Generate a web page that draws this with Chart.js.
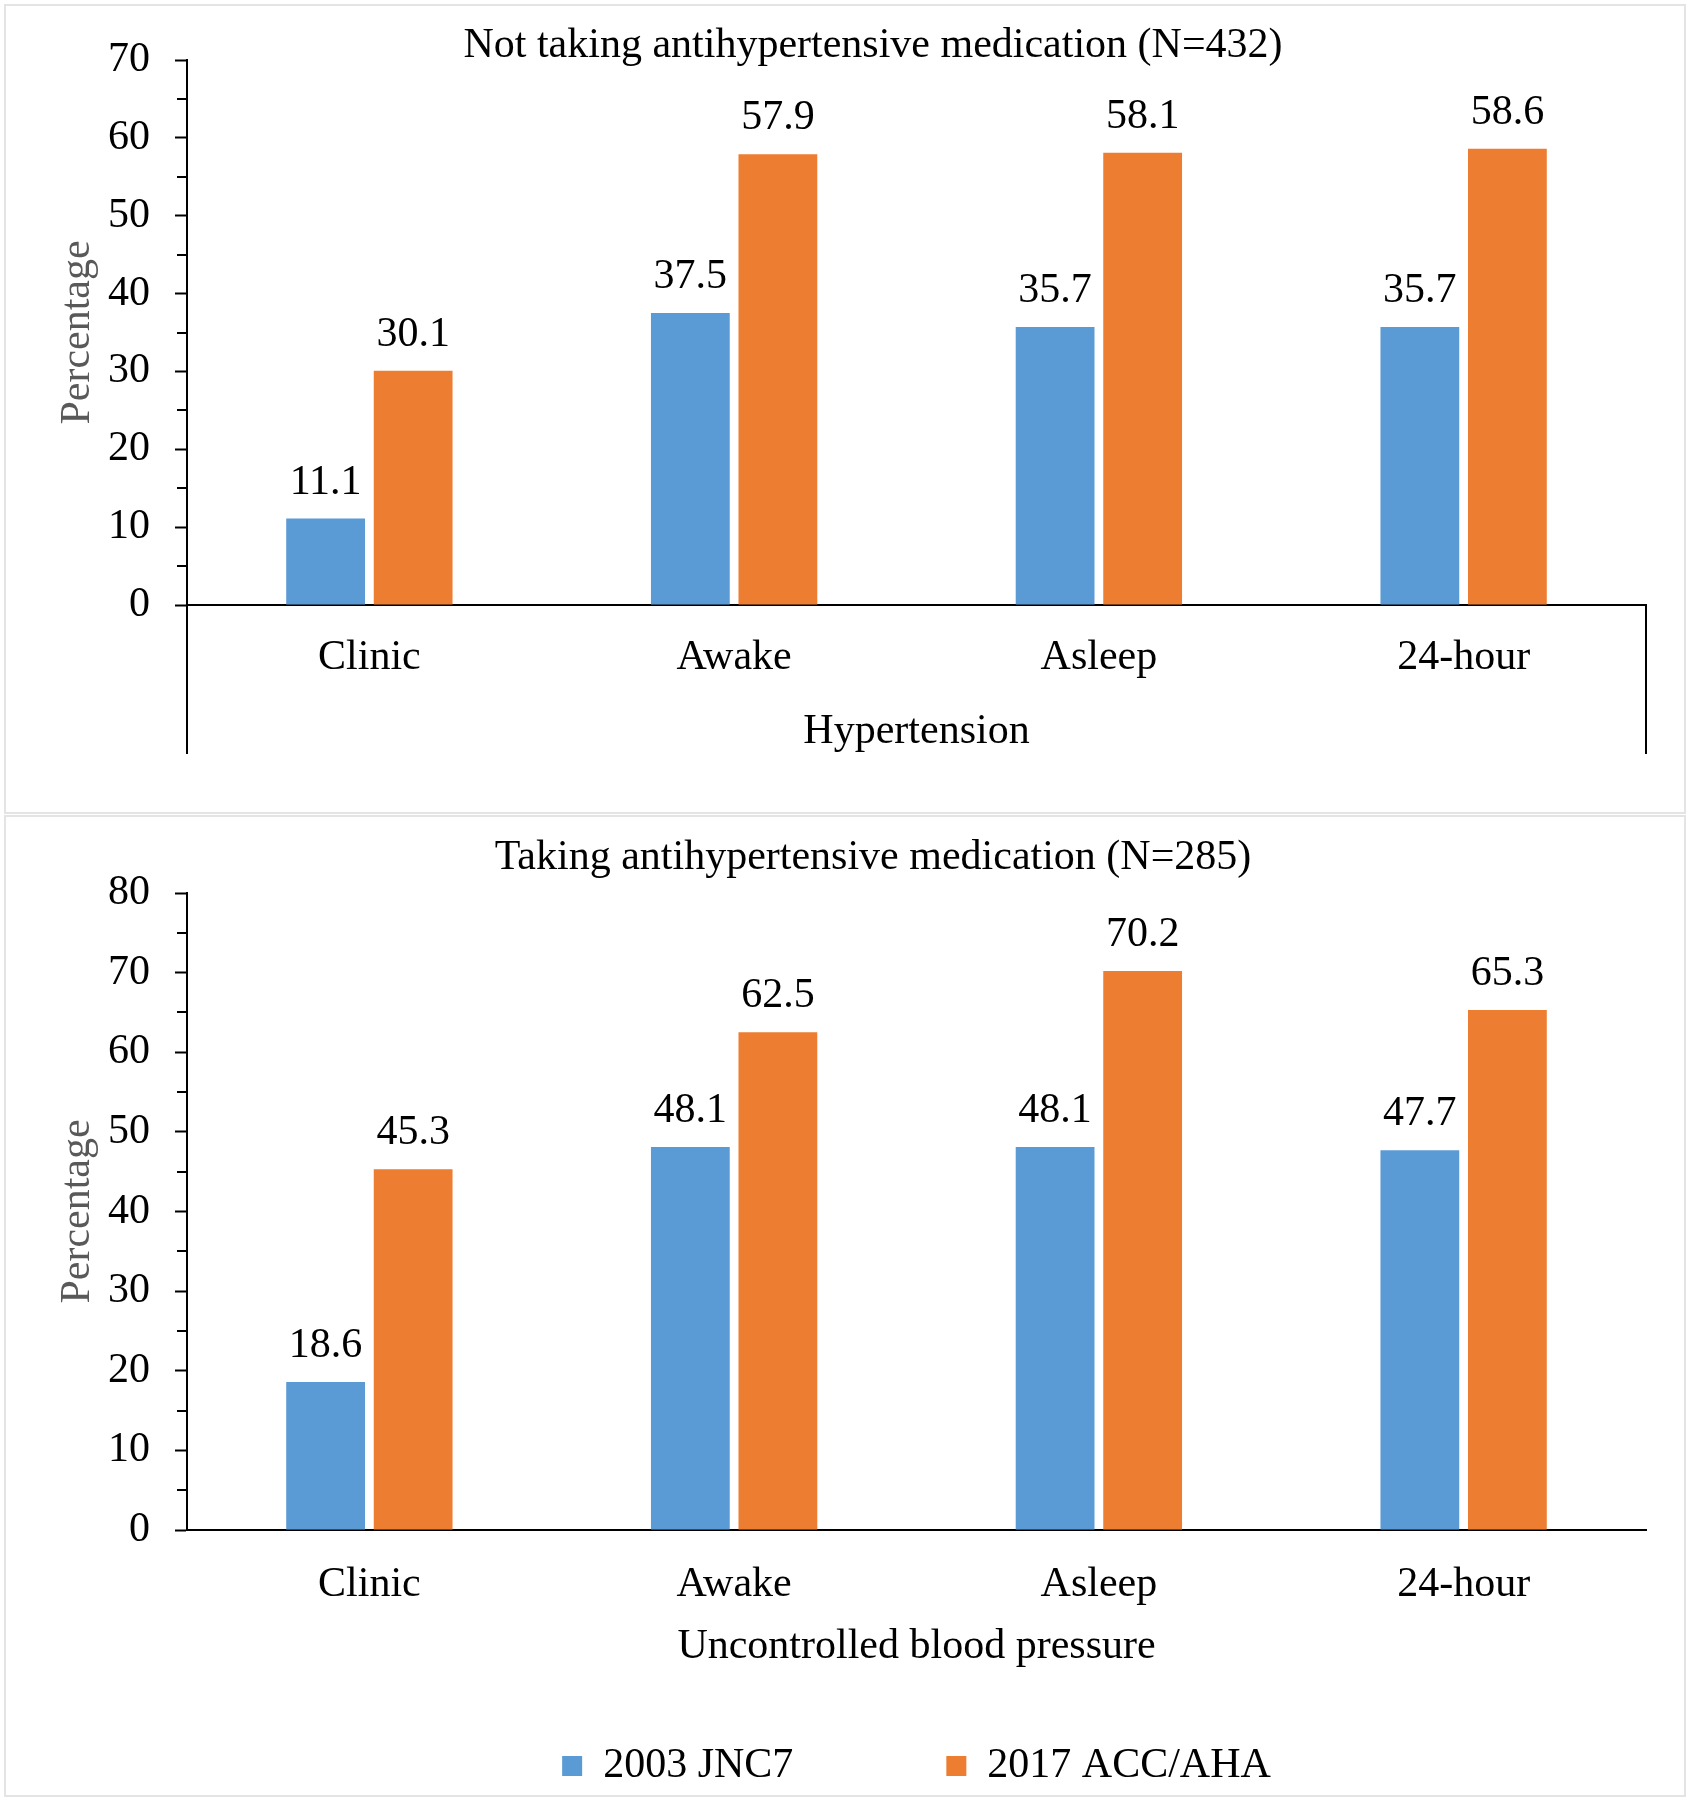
<!DOCTYPE html>
<html>
<head>
<meta charset="utf-8">
<title>Hypertension by threshold</title>
<script src="https://cdn.jsdelivr.net/npm/chart.js@4.4.1/dist/chart.umd.min.js"></script>
<style>
  html, body { margin: 0; padding: 0; background: #fff; }
  body { position: relative; width: 1691px; height: 1800px; overflow: hidden; }
  .panel { position: absolute; border: 2px solid #e4e4e4; box-sizing: border-box; }
  #panelTop { left: 4px; top: 4px; width: 1682px; height: 810px; }
  #panelBottom { left: 4px; top: 815px; width: 1682px; height: 982px; }
  canvas { position: absolute; left: 0; }
  #chartTop { top: 0; }
  #chartBottom { top: 812px; }
</style>
</head>
<body>
<div class="panel" id="panelTop"></div>
<div class="panel" id="panelBottom"></div>
<canvas id="chartTop" width="1691" height="812"></canvas>
<canvas id="chartBottom" width="1691" height="988"></canvas>
<script>
// values
const categories = ['Clinic', 'Awake', 'Asleep', '24-hour'];
const seriesNames = ['2003 JNC7', '2017 ACC/AHA'];
const notTakingJnc7 = [11.1, 37.5, 35.7, 35.7];
const notTakingAcc = [30.1, 57.9, 58.1, 58.6];
const takingJnc7 = [18.6, 48.1, 48.1, 47.7];
const takingAcc = [45.3, 62.5, 70.2, 65.3];
const topMax = 70;
const bottomMax = 80;

const blue = '#5b9bd5';
const orange = '#ed7d31';
const serif = '"Liberation Serif", "Times New Roman", serif';
const font = { family: serif, size: 42 };

Chart.defaults.font.family = serif;
Chart.defaults.color = '#000';

// numbers above each bar
const barLabels = {
  id: 'barLabels',
  afterDatasetsDraw(chart) {
    const ctx = chart.ctx;
    ctx.save();
    ctx.font = '42px ' + serif;
    ctx.fillStyle = '#000';
    ctx.textAlign = 'center';
    ctx.textBaseline = 'middle';
    chart.data.datasets.forEach((ds, i) => {
      chart.getDatasetMeta(i).data.forEach((bar, j) => {
        ctx.fillText(ds.data[j].toFixed(1), bar.x, bar.y - 36);
      });
    });
    ctx.restore();
  }
};

// short ticks halfway between the labelled ones
const minorTicks = {
  id: 'minorTicks',
  afterDraw(chart) {
    const y = chart.scales.y;
    const ctx = chart.ctx;
    ctx.save();
    ctx.strokeStyle = '#000';
    ctx.lineWidth = 2;
    for (let v = 5; v < y.max; v += 10) {
      const py = Math.round(y.getPixelForValue(v));
      ctx.beginPath();
      ctx.moveTo(chart.chartArea.left - 10, py);
      ctx.lineTo(chart.chartArea.left, py);
      ctx.stroke();
    }
    ctx.restore();
  }
};

// the top chart has its category box carried down below the axis
const categoryFrame = {
  id: 'categoryFrame',
  afterDraw(chart) {
    const { left, right, bottom } = chart.chartArea;
    const ctx = chart.ctx;
    ctx.save();
    ctx.strokeStyle = '#000';
    ctx.lineWidth = 2;
    ctx.beginPath();
    ctx.moveTo(left, bottom);
    ctx.lineTo(left, bottom + 149);
    ctx.moveTo(right, bottom);
    ctx.lineTo(right, bottom + 149);
    ctx.stroke();
    ctx.restore();
  }
};

function makeChart(id, title, xTitle, jnc, acc, yMax, opts) {
  const ctx = document.getElementById(id).getContext('2d');
  return new Chart(ctx, {
    type: 'bar',
    data: {
      labels: categories,
      datasets: [
        { label: seriesNames[0], data: jnc, backgroundColor: blue, categoryPercentage: 0.48, barPercentage: 0.9 },
        { label: seriesNames[1], data: acc, backgroundColor: orange, categoryPercentage: 0.48, barPercentage: 0.9 }
      ]
    },
    options: {
      responsive: false,
      animation: false,
      layout: { padding: { left: 100, right: 45, top: 0, bottom: opts.padBottom } },
      plugins: {
        title: {
          display: true,
          text: title,
          color: '#000',
          font: { family: serif, size: 42, weight: 'normal', lineHeight: 1 },
          padding: opts.titlePad
        },
        legend: opts.legend,
        tooltip: { enabled: false }
      },
      scales: {
        x: {
          ticks: { font: font, color: '#000', padding: opts.tickPad, mirror: opts.mirror },
          grid: { display: false, drawTicks: false },
          border: { color: '#000', width: 2 },
          title: { display: true, text: xTitle, color: '#000', font: font, padding: { top: 0, bottom: opts.xTitlePad } },
          afterFit(scale) { scale.height = opts.xHeight; }
        },
        y: {
          min: 0,
          max: yMax,
          ticks: { stepSize: 10, font: font, color: '#000', padding: 25 },
          grid: { drawOnChartArea: false, drawTicks: true, tickLength: 12, tickWidth: 2, tickColor: '#000' },
          border: { color: '#000', width: 2 },
          title: { display: true, text: 'Percentage', color: '#595959', font: font, padding: { top: -47, bottom: 0 } },
          afterFit(scale) { scale.width = 87; }
        }
      }
    },
    plugins: opts.plugins
  });
}

makeChart('chartTop', 'Not taking antihypertensive medication (N=432)', 'Hypertension',
  notTakingJnc7, notTakingAcc, topMax, {
    padBottom: 0,
    titlePad: { top: 25, bottom: -7 },
    legend: { display: false },
    tickPad: 28,
    mirror: false,
    xTitlePad: 55,
    xHeight: 207,
    plugins: [barLabels, minorTicks, categoryFrame]
  });

// the legend needs a wide gap between its two items, so the axis box is short;
// mirrored ticks (negative padding) are not clipped to it
makeChart('chartBottom', 'Taking antihypertensive medication (N=285)', 'Uncontrolled blood pressure',
  takingJnc7, takingAcc, bottomMax, {
    padBottom: 3,
    titlePad: { top: 25, bottom: 14 },
    legend: {
      display: true,
      position: 'bottom',
      fullSize: false,
      labels: { boxWidth: 20, boxHeight: 20, padding: 153, font: font, color: '#000' }
    },
    tickPad: -80,
    mirror: true,
    xTitlePad: -80,
    xHeight: 62,
    plugins: [barLabels, minorTicks]
  });
</script>
</body>
</html>
